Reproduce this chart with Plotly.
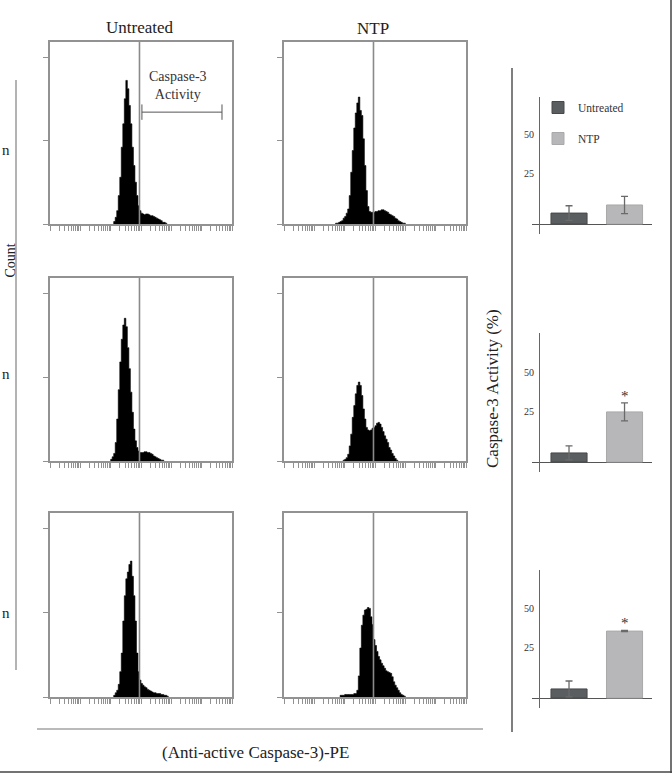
import plotly.graph_objects as go

W, H = 672, 773
SERIF = "Liberation Serif, Times New Roman, serif"

# ---------------- data ----------------
# Flow-cytometry histograms: counts per bin, bins are 0.05 decades wide on the
# log10 fluorescence axis; *_start is the log10 left edge of the first bin.
BIN_WIDTH = 0.05
hist_r1_untreated_start = 2.10
hist_r1_untreated = [3, 8, 16, 34, 56, 92, 120, 150, 172, 162, 142, 120, 92, 70, 50, 34, 22, 16, 13, 12,
                     11, 12, 12, 11, 10, 10, 9, 8, 7, 6, 5, 4, 2, 2, 1]
hist_r1_ntp_start = 1.70
hist_r1_ntp = [1, 1, 2, 3, 4, 7, 9, 13, 18, 34, 62, 88, 115, 133, 145, 152, 136, 130, 102, 70,
               40, 21, 15, 14, 14, 14, 15, 15, 16, 16, 17, 17, 16, 15, 14, 12, 11, 10, 9, 7,
               6, 4, 3, 2, 1, 1]
hist_r2_untreated_start = 2.00
hist_r2_untreated = [2, 5, 9, 22, 50, 85, 118, 145, 162, 170, 160, 135, 110, 82, 58, 38, 24, 16, 12, 10,
                     10, 10, 11, 11, 10, 10, 9, 8, 6, 5, 4, 3, 2, 1, 1]
hist_r2_ntp_start = 1.95
hist_r2_ntp = [1, 2, 4, 8, 18, 32, 52, 66, 80, 90, 94, 90, 78, 62, 50, 40, 37, 36, 37, 39,
               40, 42, 45, 46, 44, 40, 35, 30, 26, 22, 16, 13, 9, 6, 3, 1]
hist_r3_untreated_start = 2.10
hist_r3_untreated = [2, 5, 8, 15, 30, 52, 90, 120, 140, 148, 157, 161, 143, 120, 90, 52, 30, 20, 16, 14,
                     12, 11, 9, 8, 7, 6, 5, 5, 4, 4, 4, 3, 3, 2, 2, 1]
hist_r3_ntp_start = 1.85
hist_r3_ntp = [2, 2, 2, 3, 3, 3, 3, 3, 3, 4, 4, 8, 25, 58, 85, 97, 103, 104, 106, 105,
               95, 86, 68, 61, 54, 48, 44, 40, 37, 34, 31, 30, 29, 28, 24, 18, 14, 11, 8, 5,
               3, 2, 1]

GATE_LOG = 2.95                 # gate marker (log10 fluorescence)
GATE_BRACKET_LOG = [3.03, 5.67]  # "Caspase-3 Activity" bracket extent
GATE_BRACKET_COUNT = 134
HIST_X_RANGE_LOG = [0, 6]
HIST_Y_MAX = 218
HIST_Y_TICKS = [0, 100, 200]

column_titles = ["Untreated", "NTP"]

bar_categories = ["Untreated", "NTP"]
activity_r1 = [7.0, 12.2]
activity_r1_err = [4.7, 5.5]
activity_r2 = [5.8, 32.1]
activity_r2_err = [4.5, 5.8]
activity_r3 = [5.8, 42.9]
activity_r3_err = [5.1, 0.4]
significant = [[False, False], [False, True], [False, True]]
bar_ticks = [25, 50]
bar_ticktext = ["25", "50"]

# ---------------- helpers ----------------
def px(x):
    return x / W

def py(y):
    return 1 - y / H

fig = go.Figure()

hist_sets = [
    (hist_r1_untreated_start, hist_r1_untreated),
    (hist_r1_ntp_start, hist_r1_ntp),
    (hist_r2_untreated_start, hist_r2_untreated),
    (hist_r2_ntp_start, hist_r2_ntp),
    (hist_r3_untreated_start, hist_r3_untreated),
    (hist_r3_ntp_start, hist_r3_ntp),
]

col_x = [(50, 232), (284, 466)]
row_y = [(42, 224), (278, 461), (513, 697)]

FRAME = "#929292"
layout_axes = {}
for i, (start, counts) in enumerate(hist_sets):
    n = i + 1
    r, c = divmod(i, 2)
    edges = [10 ** (start + BIN_WIDTH * k) for k in range(len(counts) + 1)]
    xs = [edges[0]] + edges
    ys = [0] + list(counts) + [0]
    xa = "x" if n == 1 else f"x{n}"
    ya = "y" if n == 1 else f"y{n}"
    fig.add_trace(go.Scatter(x=xs, y=ys, mode="lines", line=dict(shape="hv", color="black", width=0.6),
                             fill="tozeroy", fillcolor="black", xaxis=xa, yaxis=ya,
                             showlegend=False, hoverinfo="skip"))
    fig.add_trace(go.Scatter(x=[10 ** GATE_LOG, 10 ** GATE_LOG], y=[0, HIST_Y_MAX], mode="lines",
                             line=dict(color="#8a8a8a", width=1.6), xaxis=xa, yaxis=ya,
                             showlegend=False, hoverinfo="skip"))
    if n == 1:
        fig.add_trace(go.Scatter(x=[10 ** v for v in GATE_BRACKET_LOG],
                                 y=[GATE_BRACKET_COUNT, GATE_BRACKET_COUNT],
                                 mode="lines+markers", line=dict(color="#555", width=1),
                                 marker=dict(symbol="line-ns", size=11, color="#555",
                                             line=dict(width=1, color="#555")),
                                 xaxis=xa, yaxis=ya, showlegend=False, hoverinfo="skip"))
    x0, x1 = col_x[c]
    y0, y1 = row_y[r]
    xkey = "xaxis" if n == 1 else f"xaxis{n}"
    ykey = "yaxis" if n == 1 else f"yaxis{n}"
    layout_axes[xkey] = dict(domain=[px(x0), px(x1)], anchor=ya, type="log", range=HIST_X_RANGE_LOG,
                             dtick="D1", showticklabels=False, ticks="outside", ticklen=5, tickwidth=1,
                             tickcolor=FRAME, showline=True, linecolor=FRAME, linewidth=1.5, mirror=True,
                             showgrid=False, zeroline=False)
    layout_axes[ykey] = dict(domain=[py(y1), py(y0)], anchor=xa, range=[0, HIST_Y_MAX],
                             tickvals=HIST_Y_TICKS, showticklabels=False, ticks="outside", ticklen=5,
                             tickwidth=1, tickcolor=FRAME, showline=True, linecolor=FRAME, linewidth=1.5,
                             mirror=True, showgrid=False, zeroline=False)

# ---------------- bar charts ----------------
bar_sets = [
    (activity_r1, activity_r1_err, (97, 234)),
    (activity_r2, activity_r2_err, (333, 472)),
    (activity_r3, activity_r3_err, (570, 708)),
]
BAR_COLORS = ["#5b5e60", "#b7b7b9"]
BAR_EDGES = ["#464849", "#a9a9ab"]
PX_PER_UNIT = 1.56
annotations = []
for j, (vals, errs, (top, bot)) in enumerate(bar_sets):
    n = 7 + j
    xa, ya = f"x{n}", f"y{n}"
    for k, cat in enumerate(bar_categories):
        fig.add_trace(go.Bar(x=[cat], y=[vals[k]], width=0.65, xaxis=xa, yaxis=ya,
                             marker=dict(color=BAR_COLORS[k], line=dict(color=BAR_EDGES[k], width=1)),
                             error_y=dict(type="data", array=[errs[k]], color="#6a6a6a",
                                          thickness=1.3, width=3.5),
                             name=cat, showlegend=(j == 0), legendgroup=cat, hoverinfo="skip"))
        if significant[j][k]:
            annotations.append(dict(x=k, y=vals[k] + errs[k], xref=xa, yref=ya, text="*",
                                    showarrow=False, xanchor="center", yanchor="bottom", yshift=-3,
                                    font=dict(family=SERIF, size=15, color="#333")))
    dom_h = bot - top
    lo = -10 / PX_PER_UNIT
    hi = (dom_h - 10) / PX_PER_UNIT
    layout_axes[f"xaxis{n}"] = dict(domain=[px(532), px(652)], anchor=ya, type="category",
                                    categoryorder="array", categoryarray=bar_categories,
                                    range=[-0.667, 1.495], showline=False, showticklabels=False,
                                    ticks="", showgrid=False, zeroline=False)
    layout_axes[f"yaxis{n}"] = dict(domain=[py(bot), py(top)], anchor="free", position=px(539),
                                    range=[lo, hi], tickvals=bar_ticks, ticktext=bar_ticktext,
                                    ticks="", ticklabelshift=-12, ticklabelstandoff=3,
                                    tickfont=dict(family=SERIF, size=10, color="#333"),
                                    showline=True, linecolor="#666", linewidth=1.2, showgrid=False,
                                    zeroline=True, zerolinecolor="#555", zerolinewidth=1.2)

# ---------------- texts ----------------
def label(x, y, text, size=17, angle=0, xanchor="center", color="#222"):
    return dict(x=px(x), y=py(y), xref="paper", yref="paper", text=text, showarrow=False,
                xanchor=xanchor, yanchor="middle", textangle=angle,
                font=dict(family=SERIF, size=size, color=color))

annotations += [
    label(140, 27, column_titles[0]),
    label(373, 28, column_titles[1]),
    label(178, 85, "Caspase-3<br>Activity", size=14, color="#333"),
    label(255, 752, "(Anti-active Caspase-3)-PE"),
    label(492, 388, "Caspase-3 Activity (%)", angle=-90),
    label(0, 261, "Count", size=14, angle=-90, xanchor="left"),
]
for yy in (150, 374, 613):
    annotations.append(label(0, yy, "n", size=15, xanchor="left"))

shapes = [
    dict(type="line", xref="paper", yref="paper", x0=px(16), x1=px(16), y0=py(80), y1=py(670),
         line=dict(color="#9a9a9a", width=1.5)),
    dict(type="line", xref="paper", yref="paper", x0=px(37), x1=px(483), y0=py(729), y1=py(729),
         line=dict(color="#777", width=1.2)),
    dict(type="line", xref="paper", yref="paper", x0=px(512), x1=px(512), y0=py(68), y1=py(732),
         line=dict(color="#555", width=1.5)),
    dict(type="line", xref="paper", yref="paper", x0=px(671), x1=px(671), y0=0, y1=1,
         line=dict(color="#444", width=1.5)),
    dict(type="line", xref="paper", yref="paper", x0=0, x1=1, y0=py(772), y1=py(772),
         line=dict(color="#444", width=1.5)),
]

fig.update_layout(
    width=W, height=H, autosize=False,
    margin=dict(l=0, r=0, t=0, b=0),
    paper_bgcolor="white", plot_bgcolor="white",
    font=dict(family=SERIF, color="#222"),
    barmode="overlay",
    showlegend=True,
    legend=dict(x=px(538), y=py(93), xanchor="left", yanchor="top", bgcolor="rgba(0,0,0,0)",
                tracegroupgap=12, font=dict(family=SERIF, size=11.5, color="#333")),
    annotations=annotations,
    shapes=shapes,
    **layout_axes,
)

fig.write_html("out.html", config={"displayModeBar": False},
               post_script="document.body.style.margin='0';document.body.style.overflow='hidden';")
